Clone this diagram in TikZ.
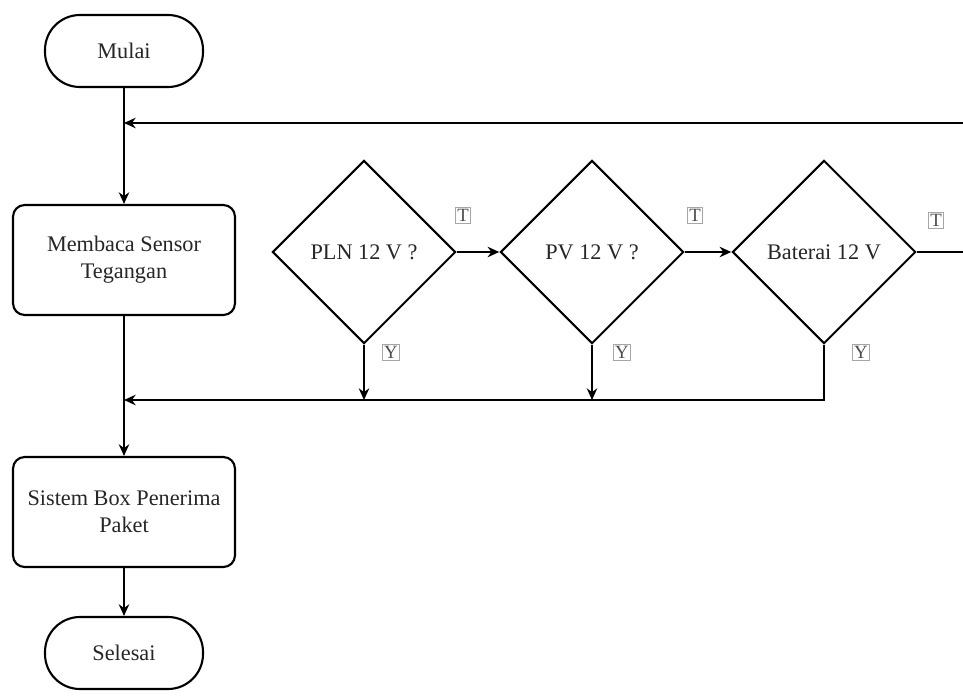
\documentclass[tikz,border=0pt]{standalone}
\usepackage{fontspec}
\setmainfont{Liberation Serif}
\usetikzlibrary{shapes.geometric,arrows.meta}

\begin{document}
\begin{tikzpicture}[x=0.03cm, y=-0.03cm, >={Stealth[length=10pt,width=9pt]},
	every node/.style={font=\fontsize{19}{23}\selectfont, text=black!85},
	terminal/.style={draw, line width=1.8pt, rounded corners=1.05cm,
		minimum width=4.74cm, minimum height=2.16cm},
	process/.style={draw, line width=1.8pt, rounded corners=0.35cm, align=center,
		minimum width=6.66cm, minimum height=3.3cm},
	decision/.style={draw, diamond, line width=1.8pt, aspect=1, inner sep=0pt,
		minimum width=5.5cm, minimum height=5.5cm},
	flag/.style={draw=black!35, line width=0.6pt, inner sep=1.5pt,
		font=\fontsize{16}{17}\selectfont, text=black!70},
	line/.style={line width=1.1pt}]
	
	\useasboundingbox (0,0) rectangle (963,696);
	
	\node [terminal] (mulai) at (124,51) {Mulai};
	\coordinate (loop) at (124,123);
	\coordinate (back) at (963,123);
	\node [process] (baca) at (124,260) {Membaca Sensor\\Tegangan};
	
	\foreach \n/\t/\x in {pln/PLN 12 V ?/364, pv/PV 12 V ?/592, bat/Baterai 12 V/824}
	\node [decision] (\n) at (\x,252) {\t};
	
	\coordinate (keluar) at (963,252);
	\coordinate (merge) at (124,400);
	\node [process] (sistem) at (124,512) {Sistem Box Penerima\\Paket};
	\node [terminal] (selesai) at (124,653) {Selesai};
	
	\draw [line, ->] (mulai) -- (baca);
	\draw [line, ->] (back) -- (loop);
	\draw [line, ->] (pln) -- (pv);
	\draw [line, ->] (pv) -- (bat);
	\draw [line] (bat) -- (keluar);
	
	\draw [line, ->] (pln) -- (pln |- merge);
	\draw [line, ->] (pv) -- (pv |- merge);
	\draw [line, ->] (bat) |- (merge);
	
	\draw [line, ->] (baca) -- (sistem);
	\draw [line, ->] (sistem) -- (selesai);
	
	\foreach \x/\y/\l [count=\i] in {463/215/T, 695/215/T, 936/220/T, 391/352/Y, 622/352/Y, 861/352/Y}
	\node [flag] (flag-\i) at (\x,\y) {\l};
\end{tikzpicture}
\end{document}
